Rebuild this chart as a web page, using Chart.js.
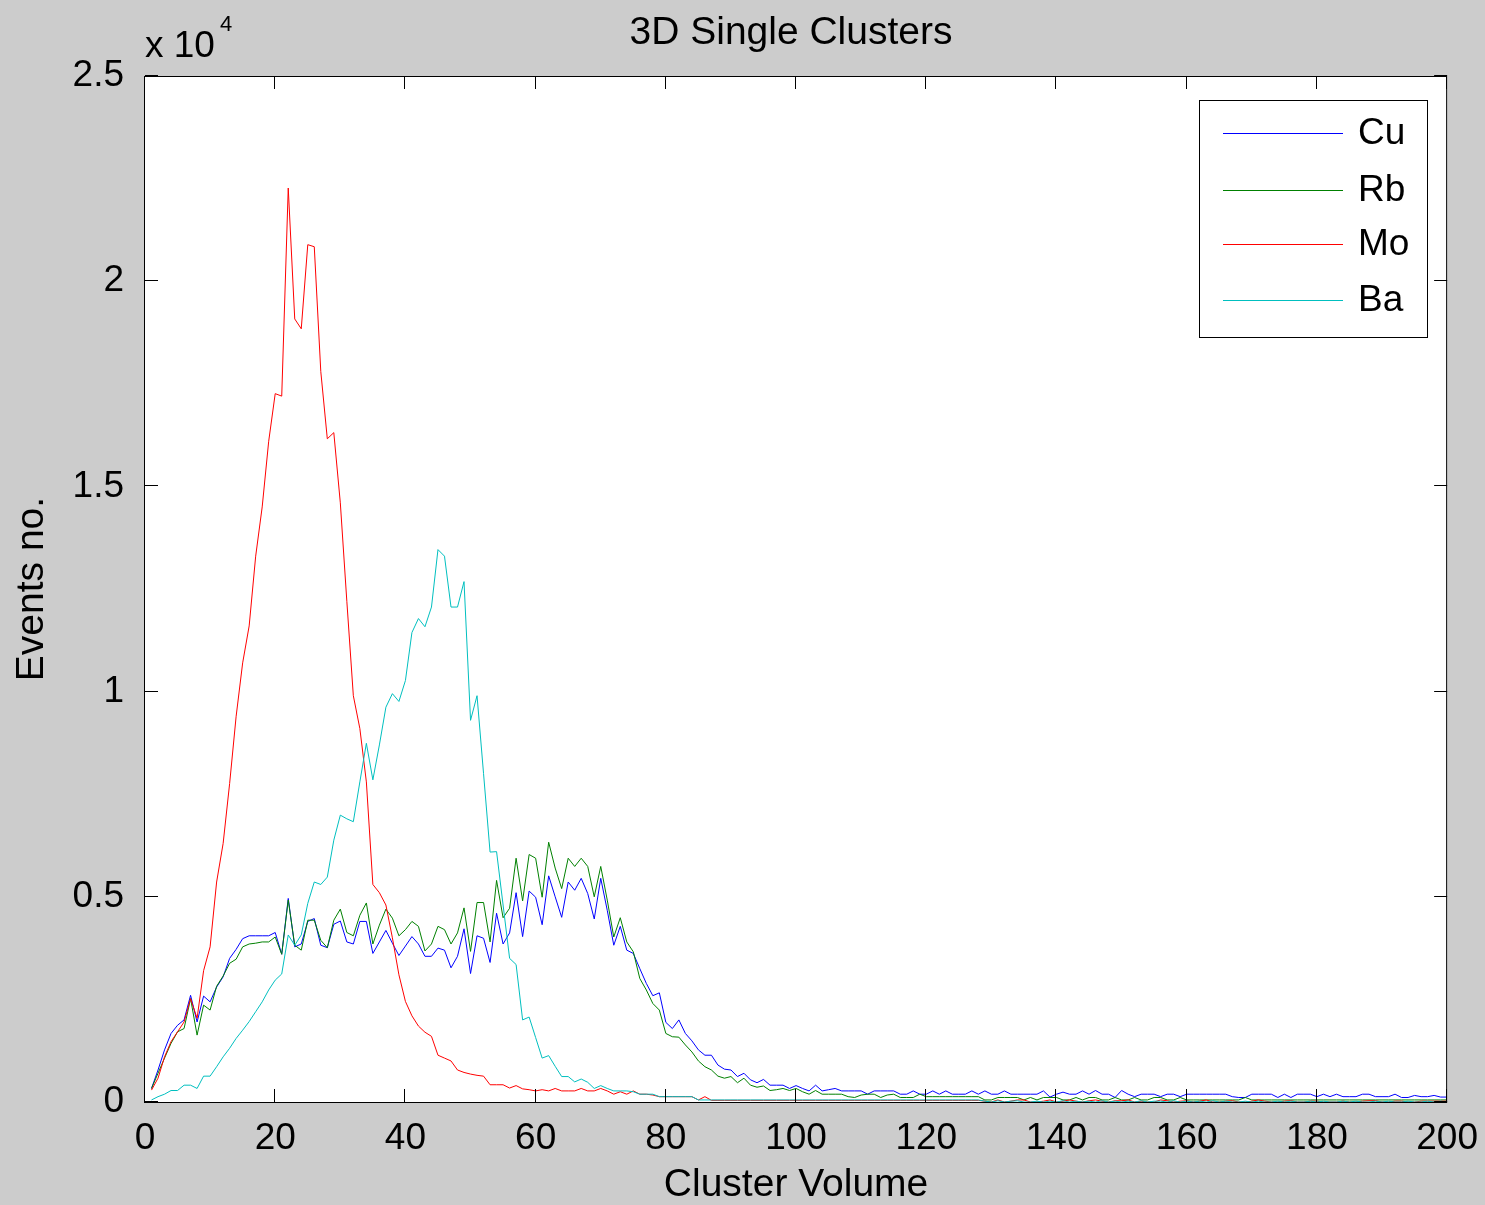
<!DOCTYPE html>
<html>
<head>
<meta charset="utf-8">
<title>3D Single Clusters</title>
<script src="https://cdn.jsdelivr.net/npm/chart.js@4.4.0/dist/chart.umd.min.js"></script>
<style>
    html, body { margin: 0; padding: 0; background: #cccccc; }
    #wrap { width: 1485px; height: 1205px; }
</style>
</head>
<body>
<div id="wrap"><canvas id="clusterChart" width="1485" height="1205"></canvas></div>
<script>
/*** Data (events per cluster volume bin) ***/
const clusterVolume = Array.from({length: 200}, (_, i) => i + 1);
const elements = ['Cu', 'Rb', 'Mo', 'Ba'];

const cuEvents = [
    330, 780, 1270, 1670, 1870, 2000, 2600, 1950, 2580, 2440,
    2800, 3050, 3500, 3720, 3980, 4050, 4050, 4050, 4050, 4130,
    3600, 4960, 3780, 3850, 4400, 4470, 3820, 3760, 4330, 4410,
    3900, 3850, 4400, 4400, 3620, 3900, 4180, 3870, 3570, 3800,
    4030, 3850, 3550, 3550, 3750, 3700, 3270, 3550, 4220, 3130,
    4050, 3990, 3400, 4600, 3850, 4120, 5100, 4030, 5140, 4990,
    4320, 5510, 5000, 4500, 5360, 5160, 5450, 5080, 4460, 5450,
    4670, 3820, 4280, 3700, 3620, 3250, 2890, 2590, 2660, 1940,
    1790, 2000, 1670, 1490, 1270, 1140, 1140, 900, 800, 780,
    620, 700, 540, 470, 550, 410, 410, 410, 330, 400,
    330, 270, 410, 270, 300, 330, 270, 270, 270, 270,
    190, 270, 270, 270, 270, 190, 190, 270, 190, 190,
    270, 190, 270, 190, 190, 190, 270, 190, 270, 190,
    190, 270, 190, 190, 190, 190, 190, 270, 120, 190,
    240, 190, 190, 270, 190, 280, 190, 190, 110, 280,
    190, 130, 190, 190, 190, 130, 190, 190, 130, 190,
    190, 190, 190, 190, 190, 190, 130, 110, 110, 190,
    190, 190, 190, 110, 190, 110, 190, 190, 190, 130,
    190, 130, 190, 130, 130, 130, 190, 190, 130, 130,
    130, 190, 110, 110, 160, 130, 130, 160, 120, 120
];
const rbEvents = [
    330, 700, 1070, 1430, 1710, 1790, 2520, 1630, 2360, 2240,
    2820, 3070, 3380, 3480, 3780, 3850, 3870, 3900, 3900, 4020,
    3600, 4920, 3820, 3700, 4430, 4430, 3940, 3760, 4430, 4700,
    4130, 4050, 4550, 4850, 3850, 4310, 4700, 4480, 4050, 4200,
    4400, 4280, 3680, 3850, 4280, 4200, 3850, 4120, 4730, 3670,
    4860, 4860, 3900, 5400, 4490, 4720, 5940, 4900, 6030, 5940,
    4990, 6330, 5700, 5200, 5940, 5740, 5940, 5740, 5000, 5740,
    4920, 4020, 4490, 3900, 3660, 3010, 2730, 2400, 2240, 1670,
    1590, 1580, 1390, 1220, 1000, 860, 780, 630, 580, 620,
    470, 580, 410, 360, 390, 280, 300, 330, 280, 330,
    250, 190, 280, 190, 190, 190, 190, 130, 110, 170,
    190, 190, 110, 170, 190, 110, 110, 110, 190, 130,
    130, 130, 130, 130, 130, 130, 130, 130, 50, 50,
    110, 110, 110, 110, 50, 110, 50, 110, 110, 110,
    50, 50, 110, 50, 110, 110, 50, 50, 110, 50,
    50, 110, 50, 50, 110, 110, 50, 50, 110, 50,
    50, 50, 50, 50, 50, 50, 50, 50, 110, 50,
    50, 50, 50, 50, 50, 50, 50, 50, 50, 50,
    50, 50, 50, 50, 50, 50, 50, 50, 50, 50,
    50, 50, 50, 50, 50, 50, 50, 50, 50, 50
];
const moEvents = [
    290, 580, 1100, 1470, 1710, 1950, 2520, 2040, 3200, 3780,
    5360, 6300, 7760, 9400, 10700, 11600, 13300, 14500, 16100, 17260,
    17200, 22270, 19080, 18840, 20890, 20840, 17800, 16160, 16310, 14600,
    12200, 9900, 9100, 7800, 5300, 5100, 4800, 4000, 3100, 2450,
    2100, 1850, 1700, 1600, 1140, 1070, 1000, 780, 720, 680,
    650, 630, 420, 420, 420, 340, 400, 320, 300, 270,
    300, 270, 330, 270, 270, 270, 330, 270, 270, 330,
    270, 190, 250, 190, 270, 190, 190, 170, 130, 130,
    130, 130, 130, 130, 50, 130, 40, 40, 40, 40,
    40, 40, 40, 40, 40, 40, 40, 40, 40, 40,
    40, 40, 40, 40, 40, 40, 40, 40, 40, 40,
    40, 40, 40, 40, 40, 40, 40, 40, 40, 40,
    40, 40, 40, 40, 40, 40, 40, 40, 20, 0,
    50, 0, 20, 50, 50, 0, 0, 20, 50, 0,
    20, 50, 20, 0, 30, 50, 20, 0, 30, 30,
    50, 0, 20, 0, 0, 50, 30, 0, 20, 30,
    0, 20, 50, 0, 0, 20, 30, 0, 0, 20,
    50, 20, 0, 0, 20, 30, 0, 0, 20, 20,
    0, 0, 0, 20, 0, 0, 20, 30, 30, 0,
    0, 20, 20, 0, 0, 20, 20, 20, 20, 20
];
const baEvents = [
    50, 130, 190, 280, 280, 410, 410, 330, 630, 630,
    860, 1100, 1310, 1550, 1750, 1960, 2200, 2440, 2730, 2970,
    3120, 4070, 3820, 4070, 4840, 5360, 5300, 5480, 6380, 6990,
    6900, 6830, 7800, 8740, 7850, 8700, 9620, 9950, 9760, 10270,
    11440, 11780, 11580, 12060, 13460, 13300, 12060, 12060, 12680, 9300,
    9900, 8000, 6090, 6100, 4800, 3500, 3350, 2000, 2070, 1570,
    1070, 1130, 870, 620, 620, 490, 560, 480, 330, 400,
    330, 270, 270, 270, 250, 190, 190, 190, 130, 130,
    130, 130, 130, 130, 50, 50, 50, 50, 50, 50,
    50, 50, 50, 50, 50, 50, 50, 50, 50, 50,
    50, 50, 50, 50, 50, 50, 50, 50, 50, 50,
    50, 50, 50, 50, 50, 50, 50, 50, 50, 50,
    50, 50, 50, 50, 50, 50, 50, 50, 20, 0,
    30, 0, 20, 30, 0, 0, 20, 0, 20, 0,
    30, 0, 20, 0, 20, 0, 30, 0, 20, 0,
    20, 0, 30, 0, 20, 20, 0, 30, 0, 20,
    0, 20, 0, 30, 0, 20, 0, 0, 20, 0,
    20, 0, 0, 20, 0, 20, 0, 0, 20, 0,
    20, 0, 0, 20, 0, 20, 0, 0, 20, 0,
    20, 0, 0, 20, 0, 0, 20, 0, 20, 0
];

/*** Style ***/
const fontFamily = "'Liberation Sans', Arial, Helvetica, sans-serif";
const lineColors = ['#0000ff', '#008000', '#ff0000', '#00bfbf'];
Chart.defaults.font.family = fontFamily;
Chart.defaults.color = '#000000';

/*** Matlab look: grey figure, boxed axes with inward ticks, title, exponent, legend ***/
const matlabFrame = {
    id: 'matlabFrame',
    beforeDraw(chart) {
        const {ctx, chartArea: a} = chart;
        ctx.save();
        ctx.fillStyle = '#cccccc';
        ctx.fillRect(0, 0, chart.width, chart.height);
        ctx.fillStyle = '#ffffff';
        ctx.fillRect(a.left, a.top, a.right - a.left, a.bottom - a.top);
        ctx.restore();
    },
    afterDraw(chart) {
        const {ctx, chartArea: a} = chart;
        const xs = chart.scales.x, ys = chart.scales.y;
        const tick = 13;
        ctx.save();
        ctx.strokeStyle = '#000000';
        ctx.lineWidth = 1;

        // ticks on all four sides
        ctx.beginPath();
        xs.ticks.forEach(t => {
            const px = Math.round(xs.getPixelForValue(t.value)) - 0.5;
            ctx.moveTo(px, a.bottom); ctx.lineTo(px, a.bottom - tick);
            ctx.moveTo(px, a.top); ctx.lineTo(px, a.top + tick);
        });
        ys.ticks.forEach(t => {
            const py = Math.round(ys.getPixelForValue(t.value)) - 0.5;
            ctx.moveTo(a.left, py); ctx.lineTo(a.left + tick, py);
            ctx.moveTo(a.right, py); ctx.lineTo(a.right - tick, py);
        });
        ctx.stroke();
        ctx.strokeRect(a.left - 0.5, a.top + 0.5, a.right - a.left, a.bottom - a.top);

        // title
        ctx.fillStyle = '#000000';
        ctx.font = '39px ' + fontFamily;
        ctx.textAlign = 'center';
        ctx.textBaseline = 'middle';
        ctx.fillText('3D Single Clusters', 791, 33);

        // exponent above the y axis
        ctx.textAlign = 'left';
        ctx.textBaseline = 'alphabetic';
        ctx.font = '37px ' + fontFamily;
        ctx.fillText('x 10', a.left, 57);
        ctx.font = '22px ' + fontFamily;
        ctx.fillText('4', 220, 31);

        // legend
        const box = {left: 1199, top: 100, right: 1427, bottom: 337};
        const rows = [133, 190, 244, 300];
        ctx.fillStyle = '#ffffff';
        ctx.fillRect(box.left, box.top, box.right - box.left, box.bottom - box.top);
        ctx.strokeStyle = '#000000';
        ctx.strokeRect(box.left + 0.5, box.top + 0.5, box.right - box.left, box.bottom - box.top);
        ctx.font = '37px ' + fontFamily;
        ctx.textBaseline = 'middle';
        chart.data.datasets.forEach((ds, i) => {
            ctx.strokeStyle = ds.borderColor;
            ctx.beginPath();
            ctx.moveTo(1223, rows[i] + 0.5);
            ctx.lineTo(1343, rows[i] + 0.5);
            ctx.stroke();
            ctx.fillStyle = '#000000';
            ctx.fillText(ds.label, 1358, rows[i] + 1);
        });
        ctx.restore();
    }
};

/*** Chart ***/
const seriesValues = [cuEvents, rbEvents, moEvents, baEvents];
const chart = new Chart(document.getElementById('clusterChart'), {
    type: 'line',
    data: {
        labels: clusterVolume,
        datasets: elements.map((name, i) => ({
            label: name,
            data: seriesValues[i],
            borderColor: lineColors[i],
            backgroundColor: lineColors[i],
            borderWidth: 1,
            pointRadius: 0,
            tension: 0,
            fill: false,
            order: elements.length - i
        }))
    },
    options: {
        responsive: false,
        animation: false,
        layout: {
            padding: {left: 0, right: 35, top: 76, bottom: 0}
        },
        plugins: {
            legend: {display: false},
            tooltip: {enabled: false},
            title: {display: false}
        },
        scales: {
            x: {
                type: 'linear',
                min: 0,
                max: 200,
                grid: {display: false},
                border: {display: false},
                ticks: {
                    stepSize: 20,
                    autoSkip: false,
                    maxRotation: 0,
                    padding: 7,
                    font: {size: 37}
                },
                title: {
                    display: true,
                    text: 'Cluster Volume',
                    font: {size: 39},
                    padding: {top: 0, bottom: -4}
                },
                afterFit: function (scale) { scale.height = 103; }
            },
            y: {
                type: 'linear',
                min: 0,
                max: 25000,
                grid: {display: false},
                border: {display: false},
                ticks: {
                    stepSize: 5000,
                    padding: 13,
                    font: {size: 37},
                    callback: function (value) { return (value / 10000).toString(); }
                },
                title: {
                    display: true,
                    text: 'Events no.',
                    font: {size: 39},
                    padding: {top: 9, bottom: 0}
                },
                afterFit: function (scale) { scale.width = 145; }
            }
        }
    },
    plugins: [matlabFrame]
});
</script>
</body>
</html>
